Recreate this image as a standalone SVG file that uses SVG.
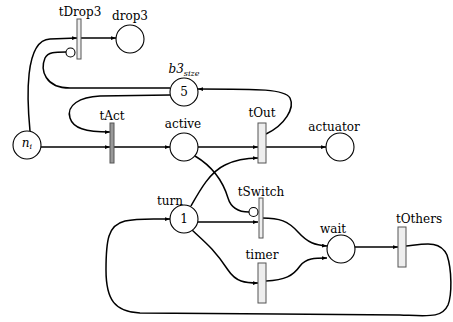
<svg xmlns="http://www.w3.org/2000/svg" width="453" height="322" viewBox="0 0 453 322">
<defs>
<marker id="ah" viewBox="0 0 8 6" refX="8" refY="3" markerWidth="5" markerHeight="4" orient="auto" markerUnits="userSpaceOnUse">
<path d="M0,0 L8,3 L0,6 z" fill="#000"/>
</marker>
</defs>
<style>
.pl{fill:#fff;stroke:#000;stroke-width:1.1}
.tr{stroke:#555;stroke-width:1}
.dk{fill:#999}
.lt{fill:#eee}
.arc{fill:none;stroke:#000;stroke-width:1.5}
.ar{marker-end:url(#ah)}
.inh{fill:#fff;stroke:#000;stroke-width:1.1}
text{font-family:"DejaVu Serif","Liberation Serif",serif;font-size:12px;fill:#000;text-anchor:middle}
</style>
<rect width="453" height="322" fill="#fff"/>
<g id="connectors">
<path class="arc ar" d="M30,131 C27,100 24,40 50,39 L77,38"/>
<path class="arc ar" d="M81,38 L116,38"/>
<path class="arc" d="M170,88 L70,88 C45,88 40,70 45,58 C48,52 55,52 66,52"/>
<path class="arc ar" d="M170,95 L100,96 C80,97 66,105 70,118 C73,128 85,132 110,132"/>
<path class="arc ar" d="M41,147 L110,147"/>
<path class="arc ar" d="M114,147 L170,147"/>
<path class="arc ar" d="M198,147 L258,147"/>
<path class="arc ar" d="M266,147 L326,147"/>
<path class="arc ar" d="M266,134 C285,125 295,108 290,98 C285,89 260,89 198,89"/>
<path class="arc" d="M195,156 C210,165 222,178 228,198 C231,208 238,212 249,212"/>
<path class="arc ar" d="M191,206 C200,190 210,172 225,165 C235,160 245,158 258,158"/>
<path class="arc ar" d="M198,222 L258,222"/>
<path class="arc ar" d="M262,218 C280,218 288,221 298,232 C308,243 315,245 327,246"/>
<path class="arc ar" d="M192,230 C205,242 215,250 228,270 C236,282 245,283 258,283"/>
<path class="arc ar" d="M266,281 C285,280 293,276 300,266 C306,258 315,258 327,258"/>
<path class="arc ar" d="M355,247 L398,247"/>
<path class="arc ar" d="M406,246 C425,244 440,240 447,255 C452,270 452,295 448,305 C442,318 430,316 400,315 C330,314 200,314 140,313 C115,312 106,300 106,270 C106,240 108,225 125,221 C138,218 150,219 170,219"/>
</g>
<g id="tDrop3"><rect class="tr lt" x="77" y="19" width="4" height="40"/><circle class="inh" cx="70.5" cy="52.5" r="4.5"/><text x="80" y="16">tDrop3</text></g>
<g id="drop3"><circle class="pl" cx="130" cy="39" r="14"/><text x="130" y="20">drop3</text></g>
<g id="b3size"><circle class="pl" cx="184" cy="92" r="14"/><text x="184" y="96">5</text><text x="184" y="73"><tspan font-style="italic">b3</tspan><tspan font-style="italic" font-size="8" dy="3">size</tspan></text></g>
<g id="ni"><circle class="pl" cx="27" cy="145" r="14"/><text x="27" y="147"><tspan font-style="italic">n</tspan><tspan font-style="italic" font-size="8" dy="2">i</tspan></text></g>
<g id="tAct"><rect class="tr dk" x="110" y="123" width="4" height="40"/><text x="112" y="120">tAct</text></g>
<g id="active"><circle class="pl" cx="184" cy="147" r="14"/><text x="183" y="128">active</text></g>
<g id="tOut"><rect class="tr lt" x="258" y="123" width="8" height="40"/><text x="262" y="117">tOut</text></g>
<g id="actuator"><circle class="pl" cx="340" cy="147" r="14"/><text x="334" y="131">actuator</text></g>
<g id="turn"><circle class="pl" cx="184" cy="219" r="14"/><text x="184" y="223">1</text><text x="170" y="205">turn</text></g>
<g id="tSwitch"><rect class="tr lt" x="259" y="198" width="4" height="40"/><circle class="inh" cx="253.5" cy="212" r="4.5"/><text x="261" y="196">tSwitch</text></g>
<g id="wait"><circle class="pl" cx="341" cy="249" r="14"/><text x="333" y="233">wait</text></g>
<g id="tOthers"><rect class="tr lt" x="398" y="227" width="8" height="40"/><text x="419" y="223">tOthers</text></g>
<g id="timer"><rect class="tr lt" x="258" y="263" width="8" height="40"/><text x="262" y="259">timer</text></g>
</svg>
